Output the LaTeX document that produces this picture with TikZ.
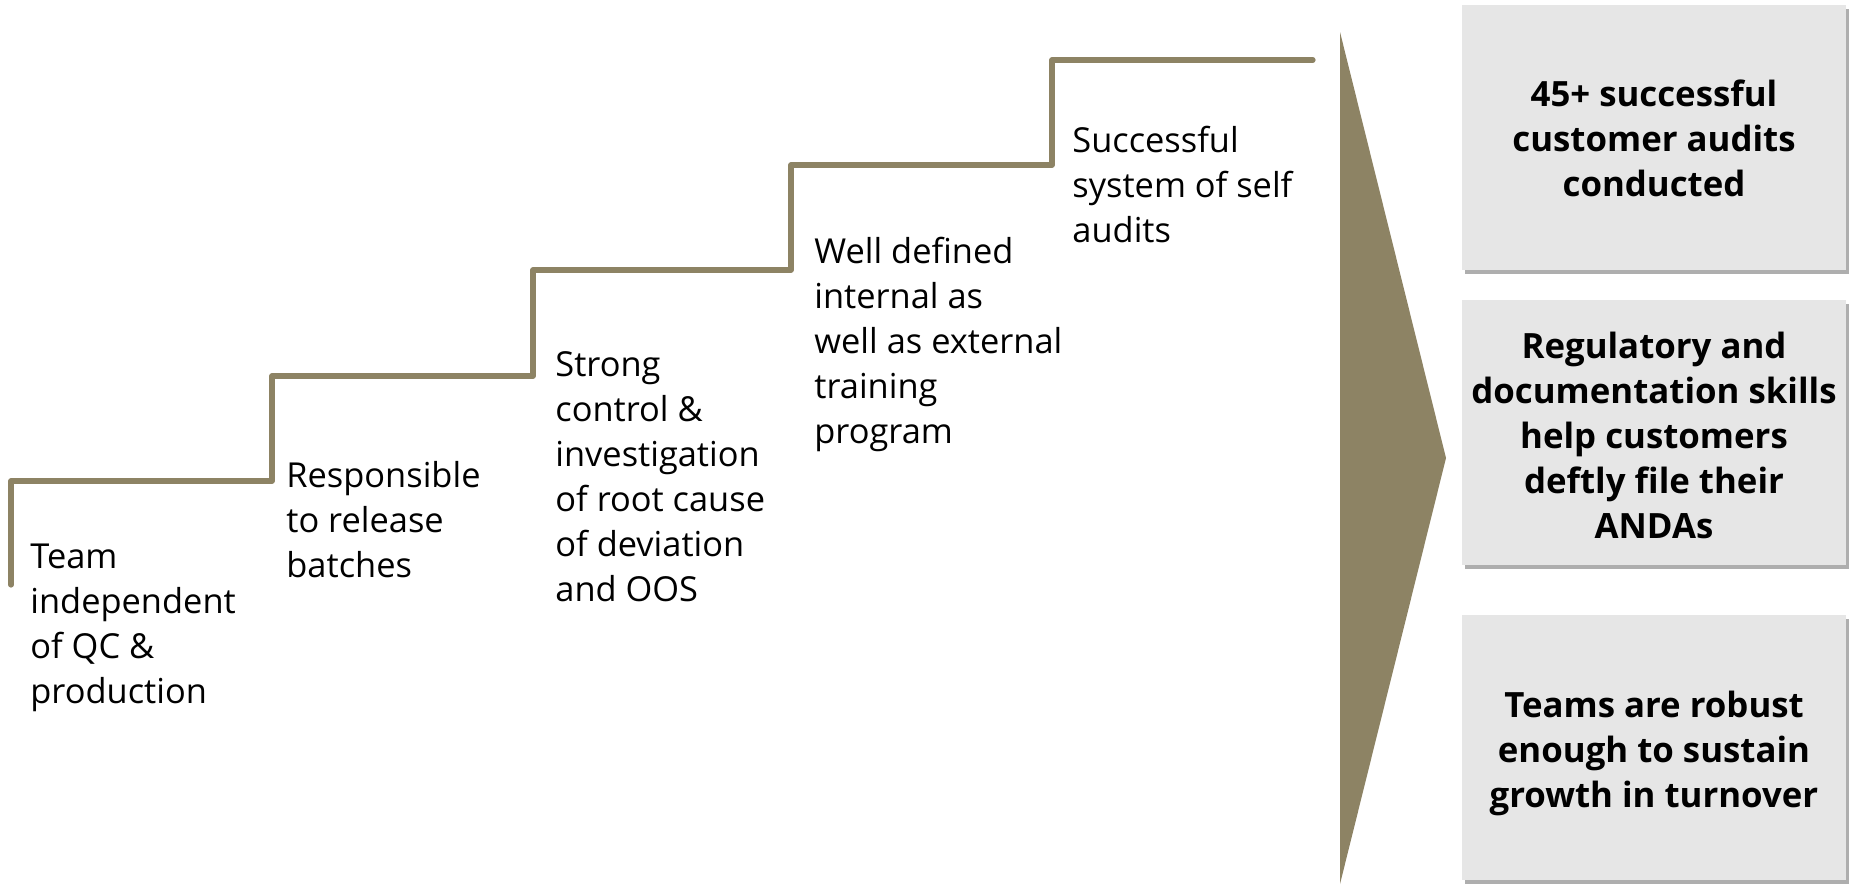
\documentclass[tikz,border=0pt]{standalone}
\usepackage{fontspec}
\setmainfont{Open Sans}
\usetikzlibrary{shadows}
\definecolor{stairc}{RGB}{141,131,100}
\definecolor{boxfill}{RGB}{230,230,230}
\begin{document}
\begin{tikzpicture}[x=0.5pt,y=-0.5pt,
  steptext/.style={anchor=north west,inner sep=0pt,align=left,
    font=\fontsize{17.2}{22.5}\selectfont},
  outbox/.style={fill=boxfill,draw=none,minimum width=192pt,minimum height=132.5pt,
    drop shadow={shadow xshift=1.5pt,shadow yshift=-2pt,opacity=0.45,fill=black!70}},
  outtext/.style={align=center,inner sep=0pt,font=\fontsize{17.4}{22.5}\selectfont\bfseries}]
\useasboundingbox (0,0) rectangle (1852,885);
% staircase
\coordinate (s0) at (11,585);
\coordinate (s1) at (11,481);
\coordinate (s2) at (272,481);
\coordinate (s3) at (272,376);
\coordinate (s4) at (533,376);
\coordinate (s5) at (533,270);
\coordinate (s6) at (791,270);
\coordinate (s7) at (791,165);
\coordinate (s8) at (1052,165);
\coordinate (s9) at (1052,60);
\coordinate (s10) at (1313,60);
\draw[stairc,line width=2.6pt,line cap=round,line join=round]
  (s0)--(s1)--(s2)--(s3)--(s4)--(s5)--(s6)--(s7)--(s8)--(s9)--(s10);
% triangle
\fill[stairc] (1340,32) -- (1446,458) -- (1340,884) -- cycle;
% step texts
\node[steptext] (t1) at (30,536.5) {\strut Team\\independent\\of QC \&\\production};
\node[steptext] (t2) at (286,455.5) {\strut Responsible\\to release\\batches};
\node[steptext] (t3) at (555,345) {\strut Strong\\control \&\\investigation\\of root cause\\of deviation\\and OOS};
\node[steptext] (t4) at (814,231.5) {\strut Well defined\\internal as\\well as external\\training\\program};
\node[steptext] (t5) at (1072,120.5) {\strut Successful\\system of self\\audits};
% output boxes
\node[outbox] (b1) at (1654,137.5) {};
\node[outbox] (b2) at (1654,432.5) {};
\node[outbox] (b3) at (1654,747) {};
\node[outtext] (o1) at ([yshift=-0.5pt]b1.center) {45+ successful\\customer audits\\conducted};
\node[outtext] (o2) at ([yshift=-1.5pt]b2.center) {Regulatory and\\documentation skills\\help customers\\deftly file their\\ANDAs};
\node[outtext] (o3) at ([yshift=-3pt]b3.center) {Teams are robust\\enough to sustain\\growth in turnover};
\end{tikzpicture}
\end{document}
